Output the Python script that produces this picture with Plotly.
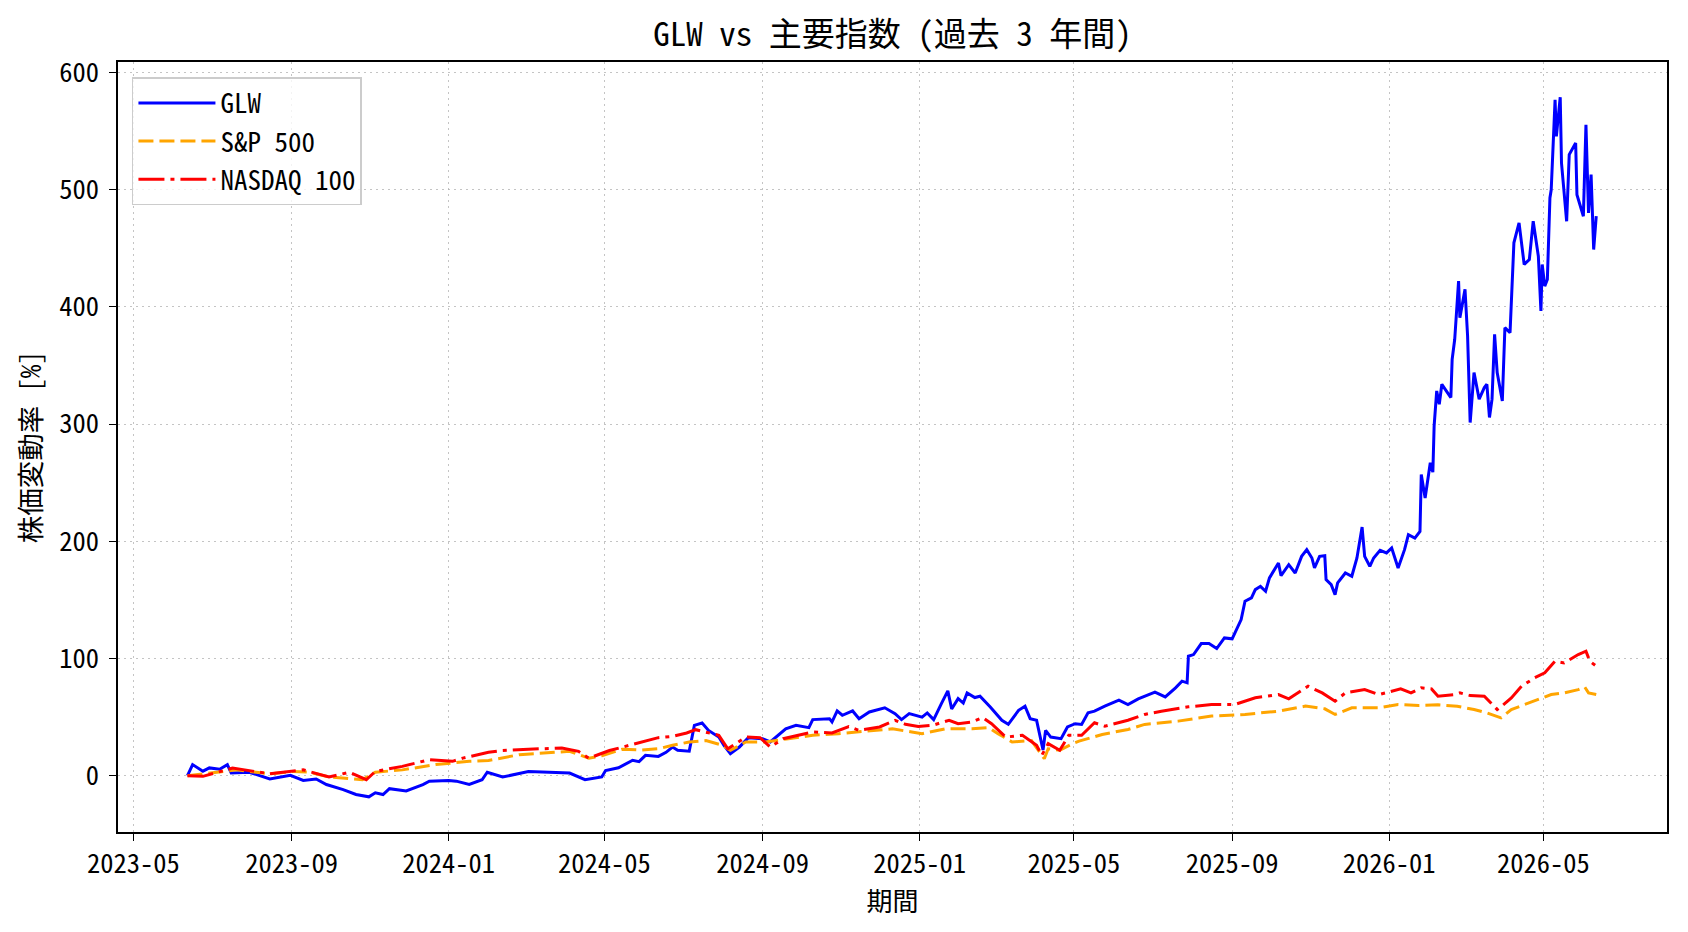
import plotly.graph_objects as go

glw_dates = ["2023-06-12","2023-06-16","2023-06-24","2023-06-29","2023-07-07","2023-07-13","2023-07-16","2023-07-30","2023-08-15","2023-08-31",
"2023-09-10","2023-09-20","2023-09-28","2023-10-11","2023-10-21","2023-10-31","2023-11-05","2023-11-11","2023-11-16","2023-11-29",
"2023-12-12","2023-12-17","2024-01-01","2024-01-07","2024-01-17","2024-01-27","2024-01-31","2024-02-12","2024-03-03","2024-03-21",
"2024-04-04","2024-04-16","2024-04-29","2024-05-02","2024-05-12","2024-05-23","2024-05-28","2024-06-02","2024-06-12","2024-06-18",
"2024-06-23","2024-06-27","2024-07-06","2024-07-10","2024-07-16","2024-07-21","2024-07-29","2024-08-02","2024-08-07","2024-08-14",
"2024-08-21","2024-09-01","2024-09-07","2024-09-19","2024-09-27","2024-10-07","2024-10-10","2024-10-23","2024-10-25","2024-10-29",
"2024-11-02","2024-11-10","2024-11-15","2024-11-23","2024-12-05","2024-12-13","2024-12-18","2024-12-24","2025-01-03","2025-01-07",
"2025-01-12","2025-01-18","2025-01-23","2025-01-26","2025-01-31","2025-02-04","2025-02-07","2025-02-13","2025-02-17","2025-02-25",
"2025-03-06","2025-03-11","2025-03-19","2025-03-24","2025-03-28","2025-04-02","2025-04-07","2025-04-09","2025-04-13","2025-04-21",
"2025-04-26","2025-05-02","2025-05-07","2025-05-12","2025-05-17","2025-05-25","2025-06-05","2025-06-12","2025-06-20","2025-07-03",
"2025-07-11","2025-07-19","2025-07-24","2025-07-28","2025-07-29","2025-08-02","2025-08-08","2025-08-14","2025-08-20","2025-08-26",
"2025-09-01","2025-09-08","2025-09-11","2025-09-16","2025-09-19","2025-09-23","2025-09-27","2025-09-30","2025-10-07","2025-10-09",
"2025-10-15","2025-10-20","2025-10-25","2025-10-29","2025-11-02","2025-11-04","2025-11-08","2025-11-12","2025-11-13","2025-11-17",
"2025-11-20","2025-11-22","2025-11-28","2025-12-03","2025-12-07","2025-12-11","2025-12-13","2025-12-17","2025-12-20","2025-12-25",
"2025-12-30","2026-01-03","2026-01-08","2026-01-13","2026-01-16","2026-01-21","2026-01-25","2026-01-26","2026-01-29","2026-02-02",
"2026-02-04","2026-02-05","2026-02-07","2026-02-09","2026-02-11","2026-02-18","2026-02-19","2026-02-21","2026-02-24","2026-02-25",
"2026-03-01","2026-03-03","2026-03-05","2026-03-08","2026-03-12","2026-03-16","2026-03-18","2026-03-20","2026-03-22","2026-03-24",
"2026-03-26","2026-03-30","2026-04-01","2026-04-05","2026-04-08","2026-04-12","2026-04-16","2026-04-20","2026-04-23","2026-04-27",
"2026-04-29","2026-04-30","2026-05-02","2026-05-04","2026-05-06","2026-05-07","2026-05-10","2026-05-11","2026-05-14","2026-05-15",
"2026-05-19","2026-05-21","2026-05-26","2026-05-27","2026-06-01","2026-06-03","2026-06-05","2026-06-07","2026-06-09","2026-06-11"]
glw_values = [0,9.5,3.9,6.7,5.6,9.5,2.3,3,-2.7,0.4,
-4,-2.8,-7.5,-11.8,-16,-18,-14.5,-16,-11,-13,
-7.5,-4.6,-4,-4.6,-7.5,-3.4,3,-1.1,3.7,3,
2.3,-3.4,-1,4.5,6.8,13.2,12,17.4,16.5,20,
24.5,21.7,21,43,45,38.7,33,26,18.8,24.5,
32.5,31.6,28.8,40,43,41,47.9,48.7,45.9,55.3,
51.6,55.3,48.7,54.4,58,53,47.9,53,50,53.6,
47.9,61.5,72.4,57,65.8,62,70.7,66.7,67.8,58.7,
47.3,43.9,55.8,59.3,48.7,47.3,22,38.7,33,31.6,
41.6,44.4,43.8,53.7,55.1,59.4,64.5,60.8,65.6,71.3,
67.3,75,80.7,79.3,102,103.4,112.8,112.8,108.5,117.6,
116.8,133.2,148.9,151.7,158.8,161.6,157.4,168.8,181.5,170.7,
180.1,173,187.2,192.9,185.8,177.3,187.2,187.8,167.3,163,
154.5,164.5,173,170.2,185.8,212.2,187.2,178.7,185.8,192.3,
190.1,194.3,177.3,192.9,205.7,202.8,208.5,257,237,267,
259,298.6,328.3,317,334,322.7,355.3,372.4,422,390.8,
415,375.2,301.4,344,321.3,331.2,334,305.7,321.3,376.6,
344,319.8,382.3,378,454.7,471.7,436.2,440.5,473.1,443.3,
396.5,436.2,417.8,423.4,493,500,576.7,545.5,579,522.8,
473.1,530,539.8,495.8,477.4,555.4,480.2,512.9,449,477.4]

sp_dates = ["2023-06-12","2023-06-24","2023-07-20","2023-08-15","2023-09-02","2023-09-15","2023-09-30","2023-10-26","2023-11-05","2023-11-26",
"2023-12-22","2024-01-17","2024-02-01","2024-02-25","2024-03-21","2024-04-04","2024-04-19","2024-04-29","2024-05-15","2024-05-30",
"2024-06-12","2024-06-23","2024-07-06","2024-07-19","2024-08-01","2024-08-07","2024-08-19","2024-09-03","2024-09-21","2024-10-10",
"2024-10-30","2024-11-26","2024-12-11","2024-12-26","2025-01-03","2025-01-21","2025-02-11","2025-02-24","2025-03-03","2025-03-14",
"2025-03-29","2025-04-08","2025-04-11","2025-04-20","2025-04-30","2025-05-05","2025-05-23","2025-06-12","2025-06-25","2025-07-21",
"2025-08-16","2025-09-11","2025-10-07","2025-10-28","2025-11-12","2025-11-20","2025-12-03","2025-12-24","2026-01-08","2026-01-24",
"2026-02-08","2026-02-23","2026-03-08","2026-03-18","2026-03-29","2026-04-06","2026-04-16","2026-04-27","2026-05-07","2026-05-17",
"2026-05-28","2026-06-02","2026-06-05","2026-06-11"]
sp_values = [0,1.7,5,1.7,3.7,3,-1,-3.4,3,5,
9.5,12.3,13,18,20,20.8,15,17,22.7,22,
23,26,28.8,30,26,21.7,28.8,28.8,31.6,34.5,
35.9,38.7,40,37.3,35.9,40,40,41,35.9,28.8,
30,14.5,23,21.7,27.4,29.5,35.2,39.5,43.8,46.6,
50.9,52.3,55.1,59.4,57.1,52.3,58,58,60.8,60,
60.5,59.3,56.5,53.6,49.4,56.5,60.8,65,69.3,70.7,
73.5,75.8,70.7,69.3]

nq_dates = ["2023-06-12","2023-06-24","2023-07-17","2023-08-15","2023-09-10","2023-09-30","2023-10-16","2023-10-29","2023-11-05","2023-11-26",
"2023-12-17","2024-01-04","2024-01-12","2024-02-01","2024-02-12","2024-03-03","2024-03-29","2024-04-11","2024-04-19","2024-05-05",
"2024-05-25","2024-06-12","2024-06-23","2024-07-04","2024-07-11","2024-07-19","2024-07-29","2024-08-05","2024-08-19","2024-08-30",
"2024-09-07","2024-09-17","2024-09-30","2024-10-10","2024-10-25","2024-11-07","2024-11-15","2024-12-01","2024-12-13","2024-12-21",
"2024-12-31","2025-01-11","2025-01-24","2025-01-31","2025-02-11","2025-02-19","2025-02-26","2025-03-09","2025-03-22","2025-04-02",
"2025-04-06","2025-04-11","2025-04-20","2025-04-27","2025-05-07","2025-05-17","2025-05-25","2025-06-12","2025-06-25","2025-07-08",
"2025-07-29","2025-08-16","2025-09-03","2025-09-19","2025-10-07","2025-10-15","2025-10-30","2025-11-10","2025-11-20","2025-11-28",
"2025-12-13","2025-12-24","2026-01-10","2026-01-18","2026-01-26","2026-02-03","2026-02-08","2026-02-21","2026-02-25","2026-03-05",
"2026-03-16","2026-03-21","2026-03-26","2026-03-30","2026-04-06","2026-04-14","2026-04-24","2026-05-02","2026-05-10","2026-05-17",
"2026-05-28","2026-06-03","2026-06-06","2026-06-11"]
nq_values = [0,-0.5,6.5,1.7,5,-1,3,-3.4,3.7,8,
13.7,12.3,15,20,21.5,22.7,23.6,20.8,15,21.5,
27.3,32.5,33.6,36.5,39.3,37.3,34.5,23,33,32.5,
24.5,31.6,34.5,37.3,36.5,42,38.7,41.6,47.3,43.9,
42,43,47.3,44.4,45.9,49.6,44.4,33,34.5,26,
17.4,27.4,21.7,34.5,34.5,45.2,42.3,47.4,52.3,55.1,
58.8,60.8,60.8,66.5,69.3,65.6,76.4,70.7,63.6,70.7,
73.6,69.3,74.1,70.7,75,74.1,67.9,69.3,70.7,68.4,
67.9,62.2,56.5,59.9,66.4,76.4,83.5,87.8,97.7,96.3,
103.4,106.3,97.7,93.5]

x_ticks = ["2023-05-01","2023-09-01","2024-01-01","2024-05-01","2024-09-01","2025-01-01",
           "2025-05-01","2025-09-01","2026-01-01","2026-05-01"]
x_tick_labels = ["2023-05","2023-09","2024-01","2024-05","2024-09","2025-01",
                 "2025-05","2025-09","2026-01","2026-05"]
y_ticks = [0, 100, 200, 300, 400, 500, 600]

FONT = "Noto Sans Mono CJK JP, Noto Sans CJK JP, sans-serif"

fig = go.Figure()
fig.add_trace(go.Scatter(x=glw_dates, y=glw_values, mode="lines", name="GLW",
                         line=dict(color="#0000ff", width=3)))
fig.add_trace(go.Scatter(x=sp_dates, y=sp_values, mode="lines", name="S&P 500",
                         line=dict(color="#ffa500", width=3, dash="15px,6px")))
fig.add_trace(go.Scatter(x=nq_dates, y=nq_values, mode="lines", name="NASDAQ 100",
                         line=dict(color="#ff0000", width=3, dash="26px,6px,4px,6px")))

axis_common = dict(
    showline=True, linecolor="black", linewidth=1.6, mirror=True,
    ticks="outside", ticklen=7, tickwidth=1.4, tickcolor="black",
    showgrid=True, gridcolor="rgba(176,176,176,0.75)", gridwidth=1.2, griddash="2px,4px",
    zeroline=False, tickfont=dict(family=FONT, size=26.5, color="black"),
)

fig.update_xaxes(range=["2023-04-19", "2026-08-05"], tickvals=x_ticks, ticktext=x_tick_labels,
                 title=dict(text="期間", font=dict(family=FONT, size=26, color="black"), standoff=1),
                 **axis_common)
fig.update_yaxes(range=[-48, 609], tickvals=y_ticks, ticklabelstandoff=5,
                 title=dict(text="株価変動率 [%]", font=dict(family=FONT, size=27.5, color="black"), standoff=10),
                 **axis_common)

fig.update_layout(
    width=1688, height=932,
    margin=dict(l=118, r=21, t=62, b=100),
    paper_bgcolor="white", plot_bgcolor="white",
    title=dict(text="GLW vs 主要指数 (過去 3 年間)", x=0.5287, xanchor="center", y=0.963, yanchor="middle",
               font=dict(family=FONT, size=33, color="black")),
    font=dict(family=FONT, color="black"),
    legend=dict(x=0.009, y=0.98, xanchor="left", yanchor="top",
                bgcolor="rgba(255,255,255,0.8)", bordercolor="#cccccc", borderwidth=1.5,
                font=dict(family=FONT, size=27, color="black"), itemwidth=77,
                tracegroupgap=0),
    showlegend=True,
)

fig.write_html("out.html")
